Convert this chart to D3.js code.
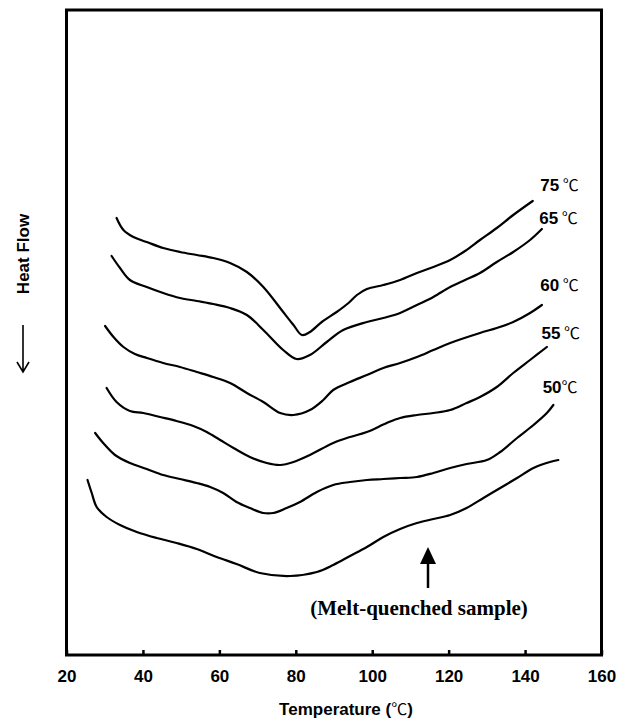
<!DOCTYPE html>
<html>
<head>
<meta charset="utf-8">
<script src="https://cdnjs.cloudflare.com/ajax/libs/d3/7.8.5/d3.min.js"></script>
<style>
  body { margin: 0; background: #fff; }
  svg { display: block; }
</style>
</head>
<body>
<div id="chart"></div>
<script>
// DSC traces, heat flow in arbitrary units (endo down)
const t75 = [33.1, 34.9, 37.5, 41.0, 45.3, 49.7, 54.1, 58.4, 62.8, 67.2, 71.5, 76.3, 79.4, 81.6, 83.7, 86.8, 90.7, 93.8, 96.0, 98.6, 102.9, 107.3, 111.7, 116.0, 120.4, 124.3, 128.2, 132.6, 136.9, 142.0];
const hf75 = [43.7, 42.5, 41.8, 41.3, 40.7, 40.3, 40.0, 39.7, 39.2, 38.3, 36.8, 34.5, 33.0, 32.0, 32.3, 33.3, 34.3, 35.2, 36.0, 36.6, 37.0, 37.5, 38.2, 38.8, 39.5, 40.4, 41.5, 42.7, 44.0, 45.4];

const t65 = [31.8, 34.0, 36.6, 41.0, 45.3, 49.7, 54.1, 58.4, 62.8, 67.2, 71.5, 76.7, 80.2, 83.7, 88.1, 92.4, 98.6, 102.9, 107.3, 111.7, 116.0, 120.4, 124.3, 128.2, 132.6, 136.9, 141.3, 144.4];
const hf65 = [39.9, 38.7, 37.5, 36.8, 36.2, 35.7, 35.4, 35.1, 34.7, 34.0, 32.5, 30.5, 29.6, 30.0, 31.3, 32.5, 33.3, 33.7, 34.2, 35.0, 35.8, 36.8, 37.5, 38.2, 39.3, 40.3, 41.5, 42.6];

const t60 = [30.1, 32.3, 34.9, 37.9, 41.0, 45.3, 49.7, 54.1, 58.4, 62.8, 67.2, 71.5, 75.9, 79.4, 83.7, 87.2, 89.8, 94.2, 98.6, 102.9, 107.3, 111.7, 116.0, 120.4, 128.2, 132.6, 136.9, 141.3, 144.4];
const hf60 = [32.9, 31.8, 30.8, 30.1, 29.7, 29.2, 28.8, 28.3, 27.8, 27.2, 26.2, 25.3, 24.2, 24.0, 24.5, 25.5, 26.5, 27.3, 28.0, 28.7, 29.2, 29.8, 30.5, 31.2, 32.2, 32.7, 33.3, 34.2, 35.0];

const t55 = [30.5, 33.1, 36.6, 40.1, 44.5, 48.8, 53.2, 56.7, 60.2, 63.7, 68.0, 72.4, 75.9, 79.4, 83.7, 89.8, 94.2, 98.6, 103.8, 107.3, 111.7, 116.0, 120.4, 124.7, 128.2, 132.6, 136.9, 141.3, 145.7];
const hf55 = [26.7, 25.3, 24.4, 24.2, 23.8, 23.4, 22.9, 22.3, 21.5, 20.7, 19.8, 19.2, 19.0, 19.3, 20.0, 21.2, 21.8, 22.3, 23.2, 23.7, 24.0, 24.2, 24.5, 25.2, 25.8, 26.8, 28.2, 29.5, 30.8];

const t50 = [27.5, 29.6, 32.7, 36.6, 41.0, 45.3, 49.7, 54.1, 57.6, 61.0, 64.5, 68.0, 71.5, 74.1, 77.6, 81.1, 85.5, 89.8, 94.2, 98.6, 102.9, 107.3, 111.7, 116.0, 120.4, 124.7, 130.0, 133.5, 137.9, 142.2, 145.7, 147.4];
const hf50 = [22.2, 21.2, 20.0, 19.2, 18.6, 18.0, 17.6, 17.2, 16.8, 16.2, 15.3, 14.7, 14.2, 14.2, 14.7, 15.3, 16.3, 17.0, 17.3, 17.5, 17.6, 17.7, 17.8, 18.2, 18.7, 19.1, 19.5, 20.3, 21.7, 23.0, 24.2, 25.0];

const tMq = [25.5, 26.6, 27.9, 30.5, 34.0, 38.4, 43.6, 48.8, 54.1, 59.3, 64.5, 70.6, 78.5, 85.5, 89.8, 94.2, 98.6, 102.9, 107.3, 111.7, 116.0, 120.4, 124.7, 129.1, 133.5, 137.9, 142.2, 146.5, 148.7];
const hfMq = [17.5, 16.2, 14.8, 13.8, 13.0, 12.3, 11.7, 11.2, 10.6, 9.8, 9.1, 8.2, 7.9, 8.3, 9.0, 9.9, 10.8, 11.8, 12.6, 13.2, 13.6, 14.0, 14.7, 15.7, 16.7, 17.7, 18.7, 19.3, 19.5];

const xTicks = [20, 40, 60, 80, 100, 120, 140, 160];
const seriesNames = ['75', '65', '60', '55', '50', 'Melt-quenched'];

const series = [
    { name: seriesNames[0], t: t75, hf: hf75 },
    { name: seriesNames[1], t: t65, hf: hf65 },
    { name: seriesNames[2], t: t60, hf: hf60 },
    { name: seriesNames[3], t: t55, hf: hf55 },
    { name: seriesNames[4], t: t50, hf: hf50 },
    { name: seriesNames[5], t: tMq, hf: hfMq }
];

// curve labels, anchored in data coords
const labels = [
    { num: '75', unit: ' ℃', t: 144.0, v: 46.4 },
    { num: '65', unit: ' ℃', t: 143.7, v: 43.1 },
    { num: '60', unit: ' ℃', t: 144.0, v: 36.4 },
    { num: '55', unit: ' ℃', t: 144.3, v: 31.6 },
    { num: '50', unit: '℃', t: 144.6, v: 26.2 }
];

const width = 617, height = 719;
const plot = { left: 66.5, right: 601.5, top: 10, bottom: 655 };

const svg = d3.select('#chart')
    .append('svg')
    .attr('width', width)
    .attr('height', height)
    .style('background', '#fff');

const x = d3.scaleLinear().domain([20, 160]).range([plot.left, plot.right]);
const y = d3.scaleLinear().domain([0, 64.5]).range([plot.bottom, plot.top]);

const line = d3.line()
    .x(d => x(d[0]))
    .y(d => y(d[1]))
    .curve(d3.curveCatmullRom.alpha(0.5));

svg.selectAll('.trace')
    .data(series)
    .enter()
    .append('path')
    .attr('class', 'trace')
    .attr('d', s => line(s.t.map((t, i) => [t, s.hf[i]])))
    .attr('fill', 'none')
    .attr('stroke', '#000')
    .attr('stroke-width', 2.2)
    .attr('stroke-linejoin', 'round')
    .attr('stroke-linecap', 'round');

// x axis with inward ticks
const xAxis = svg.append('g')
    .attr('transform', `translate(0, ${plot.bottom})`)
    .call(d3.axisBottom(x)
        .tickValues(xTicks)
        .tickSize(-5)
        .tickPadding(15)
        .tickFormat(d3.format('d')));

xAxis.select('.domain').remove();
xAxis.selectAll('line')
    .attr('stroke', '#000')
    .attr('stroke-width', 2.5);
xAxis.selectAll('text')
    .attr('fill', '#000')
    .style('font-family', '"Liberation Sans", Arial, sans-serif')
    .style('font-weight', 'bold')
    .style('font-size', '17px');

// frame
svg.append('rect')
    .attr('x', x(20))
    .attr('y', y(64.5))
    .attr('width', x(160) - x(20))
    .attr('height', y(0) - y(64.5))
    .attr('fill', 'none')
    .attr('stroke', '#000')
    .attr('stroke-width', 3);

// x title
const xTitle = svg.append('text')
    .attr('x', 346)
    .attr('y', 715)
    .attr('text-anchor', 'middle')
    .style('font-family', '"Liberation Sans", Arial, sans-serif')
    .style('font-weight', 'bold')
    .style('font-size', '17px');
xTitle.append('tspan').text('Temperature (');
xTitle.append('tspan')
    .style('font-family', '"Noto Sans CJK SC", "DejaVu Sans", sans-serif')
    .style('font-weight', 'normal')
    .style('font-size', '16px')
    .text('℃');
xTitle.append('tspan').text(')');

// y title with arrow
svg.append('text')
    .attr('transform', 'translate(28.5, 254) rotate(-90)')
    .attr('text-anchor', 'middle')
    .style('font-family', '"Liberation Sans", Arial, sans-serif')
    .style('font-weight', 'bold')
    .style('font-size', '17px')
    .text('Heat Flow');

svg.append('path')
    .attr('d', 'M23,325 L23,371 M17,362 L23,372 L29,362')
    .attr('fill', 'none')
    .attr('stroke', '#000')
    .attr('stroke-width', 1.6);

// curve labels
labels.forEach(l => {
    const txt = svg.append('text')
        .attr('x', x(l.t))
        .attr('y', y(l.v))
        .style('font-family', '"Liberation Sans", Arial, sans-serif')
        .style('font-weight', 'bold')
        .style('font-size', '17px');
    txt.append('tspan').text(l.num);
    txt.append('tspan')
        .style('font-family', '"Noto Sans CJK SC", "DejaVu Sans", sans-serif')
        .style('font-weight', 'normal')
        .style('font-size', '16px')
        .text(l.unit);
});

// melt-quenched annotation
const arrowT = 114.6;
const ax = x(arrowT);
svg.append('line')
    .attr('x1', ax).attr('x2', ax)
    .attr('y1', 560).attr('y2', 588)
    .attr('stroke', '#000')
    .attr('stroke-width', 2.5);
svg.append('path')
    .attr('d', `M${ax},547 L${ax - 8},564 L${ax + 8},564 Z`)
    .attr('fill', '#000');

svg.append('text')
    .attr('x', ax - 9)
    .attr('y', 615)
    .attr('text-anchor', 'middle')
    .style('font-family', '"Liberation Serif", "Times New Roman", serif')
    .style('font-weight', 'bold')
    .style('font-size', '21px')
    .text('(Melt-quenched sample)');
</script>
</body>
</html>
